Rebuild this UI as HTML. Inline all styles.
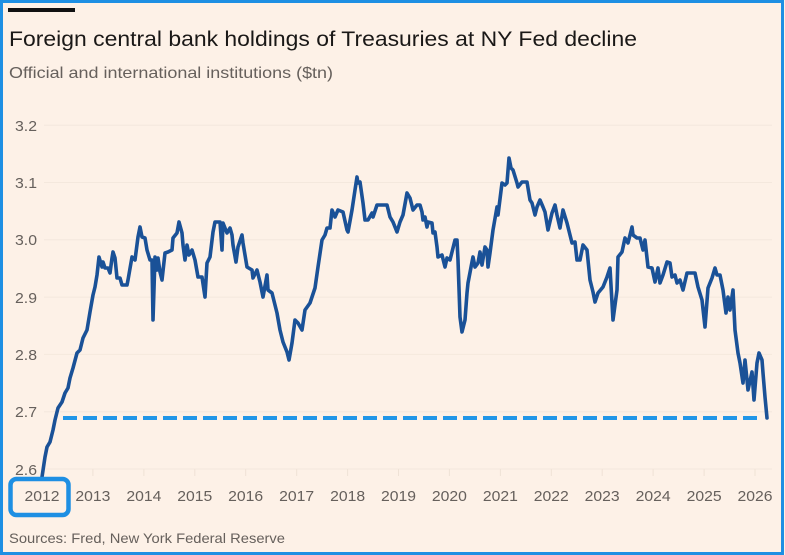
<!DOCTYPE html>
<html>
<head>
<meta charset="utf-8">
<style>
html,body{margin:0;padding:0;background:#fdf1e7;}
svg{display:block;}
text{font-family:"Liberation Sans",sans-serif;}
</style>
</head>
<body>
<svg width="785" height="555" viewBox="0 0 785 555" xmlns="http://www.w3.org/2000/svg">
<rect x="0" y="0" width="785" height="555" fill="#fdf1e7"/>
<rect x="1.5" y="1.5" width="781" height="552" fill="none" stroke="#1e8fe3" stroke-width="3"/>
<rect x="8" y="8" width="67" height="4" fill="#111"/>
<text x="9" y="46" font-size="21" fill="#1a1817" textLength="628" lengthAdjust="spacingAndGlyphs">Foreign central bank holdings of Treasuries at NY Fed decline</text>
<text x="9" y="78" font-size="16" fill="#66605c" textLength="324" lengthAdjust="spacingAndGlyphs">Official and international institutions ($tn)</text>
<g stroke="#f4e8dd" stroke-width="1">
<line x1="44" y1="125.2" x2="772" y2="125.2"/>
<line x1="44" y1="182.5" x2="772" y2="182.5"/>
<line x1="44" y1="239.8" x2="772" y2="239.8"/>
<line x1="44" y1="297.1" x2="772" y2="297.1"/>
<line x1="44" y1="354.4" x2="772" y2="354.4"/>
<line x1="44" y1="411.7" x2="772" y2="411.7"/>
<line x1="44" y1="469" x2="772" y2="469"/>
</g>
<g stroke="#efe2d6" stroke-width="1">
<line x1="92.9" y1="469" x2="92.9" y2="476"/>
<line x1="143.9" y1="469" x2="143.9" y2="476"/>
<line x1="194.8" y1="469" x2="194.8" y2="476"/>
<line x1="245.7" y1="469" x2="245.7" y2="476"/>
<line x1="296.7" y1="469" x2="296.7" y2="476"/>
<line x1="347.6" y1="469" x2="347.6" y2="476"/>
<line x1="398.5" y1="469" x2="398.5" y2="476"/>
<line x1="449.4" y1="469" x2="449.4" y2="476"/>
<line x1="500.4" y1="469" x2="500.4" y2="476"/>
<line x1="551.3" y1="469" x2="551.3" y2="476"/>
<line x1="602.2" y1="469" x2="602.2" y2="476"/>
<line x1="653.1" y1="469" x2="653.1" y2="476"/>
<line x1="704.1" y1="469" x2="704.1" y2="476"/>
<line x1="755" y1="469" x2="755" y2="476"/>
</g>
<g font-size="15" fill="#66605c">
<text x="15" y="131" textLength="22" lengthAdjust="spacingAndGlyphs">3.2</text>
<text x="15" y="188" textLength="22" lengthAdjust="spacingAndGlyphs">3.1</text>
<text x="15" y="245" textLength="22" lengthAdjust="spacingAndGlyphs">3.0</text>
<text x="15" y="303" textLength="22" lengthAdjust="spacingAndGlyphs">2.9</text>
<text x="15" y="360" textLength="22" lengthAdjust="spacingAndGlyphs">2.8</text>
<text x="15" y="417" textLength="22" lengthAdjust="spacingAndGlyphs">2.7</text>
<text x="15" y="475" textLength="22" lengthAdjust="spacingAndGlyphs">2.6</text>
</g>
<g font-size="15" fill="#66605c" text-anchor="middle">
<text x="42" y="501" textLength="35" lengthAdjust="spacingAndGlyphs">2012</text>
<text x="92.9" y="501" textLength="35" lengthAdjust="spacingAndGlyphs">2013</text>
<text x="143.9" y="501" textLength="35" lengthAdjust="spacingAndGlyphs">2014</text>
<text x="194.8" y="501" textLength="35" lengthAdjust="spacingAndGlyphs">2015</text>
<text x="245.7" y="501" textLength="35" lengthAdjust="spacingAndGlyphs">2016</text>
<text x="296.7" y="501" textLength="35" lengthAdjust="spacingAndGlyphs">2017</text>
<text x="347.6" y="501" textLength="35" lengthAdjust="spacingAndGlyphs">2018</text>
<text x="398.5" y="501" textLength="35" lengthAdjust="spacingAndGlyphs">2019</text>
<text x="449.4" y="501" textLength="35" lengthAdjust="spacingAndGlyphs">2020</text>
<text x="500.4" y="501" textLength="35" lengthAdjust="spacingAndGlyphs">2021</text>
<text x="551.3" y="501" textLength="35" lengthAdjust="spacingAndGlyphs">2022</text>
<text x="602.2" y="501" textLength="35" lengthAdjust="spacingAndGlyphs">2023</text>
<text x="653.1" y="501" textLength="35" lengthAdjust="spacingAndGlyphs">2024</text>
<text x="704.1" y="501" textLength="35" lengthAdjust="spacingAndGlyphs">2025</text>
<text x="755" y="501" textLength="35" lengthAdjust="spacingAndGlyphs">2026</text>
</g>
<line x1="63" y1="418" x2="757" y2="418" stroke="#2196e8" stroke-width="4" stroke-dasharray="14 6"/>
<polyline fill="none" stroke="#1a5197" stroke-width="3.6" stroke-linejoin="round" stroke-linecap="round" points="42,477 45,457 47,447 50,442 53,430 55,420 58,408 62,402 65,393 68,388 70,378 73,368 77,353 80,350 83,338 87,330 90,312 93,295 95,287 97,275 99,257 102,267 103,262 105,268 108,268 110,273 112,258 113,252 115,258 117,278 120,278 122,285 127,285 128,280 132,257 135,260 138,237 140,227 142,237 145,238 147,250 150,260 152,260 153,320 155,257 157,270 158,258 160,272 162,280 165,253 168,252 172,250 173,238 177,233 179,222 182,233 183,245 185,260 187,245 189,255 192,250 195,260 198,277 202,277 205,297 207,263 210,257 213,232 215,222 220,222 222,250 223,223 227,233 230,228 232,235 233,245 236,262 238,247 242,235 243,243 247,267 252,270 253,278 257,270 260,282 263,297 267,275 268,290 272,293 277,313 280,330 283,342 287,352 289,360 292,343 295,320 298,323 302,330 305,310 310,303 315,288 318,267 322,240 325,235 327,228 330,228 332,210 335,217 338,210 343,212 347,230 348,232 352,210 355,190 357,177 358,183 360,182 363,203 365,220 368,220 372,213 373,217 377,205 380,205 387,205 390,217 393,222 397,232 400,222 403,215 407,193 410,198 413,210 417,205 420,205 422,212 423,220 425,217 427,227 428,222 432,223 433,233 435,232 437,247 438,257 442,255 445,267 447,258 450,260 452,252 455,240 457,240 458,260 460,317 462,332 465,320 467,293 468,283 472,262 473,257 475,267 478,263 480,252 482,265 485,247 487,250 488,267 490,253 493,230 497,207 498,215 502,183 505,185 507,183 509,158 511,168 513,170 517,183 518,187 522,182 527,182 530,200 532,203 535,215 537,207 540,200 543,207 545,212 548,230 552,213 555,205 557,215 560,228 563,210 567,223 572,243 575,242 577,260 580,260 583,245 587,250 590,280 593,292 595,302 598,293 603,287 607,277 610,268 613,320 617,290 618,257 622,252 625,238 628,243 632,227 633,235 637,238 640,238 643,250 645,240 648,267 652,268 655,282 658,268 660,283 663,275 667,262 670,263 672,277 675,275 677,283 680,280 683,290 687,273 695,273 698,287 702,300 705,327 708,288 712,278 715,268 717,275 720,275 723,290 726,313 728,297 730,310 733,290 735,330 738,353 740,363 743,383 745,360 748,390 752,372 754,400 757,363 759,353 762,360 763,373 765,397 767,418"/>
<rect x="10.5" y="479" width="58" height="36" rx="6" ry="6" fill="none" stroke="#1e8fe3" stroke-width="4.5"/>
<text x="9" y="543" font-size="14" fill="#66605c" textLength="276" lengthAdjust="spacingAndGlyphs">Sources: Fred, New York Federal Reserve</text>
</svg>
</body>
</html>
